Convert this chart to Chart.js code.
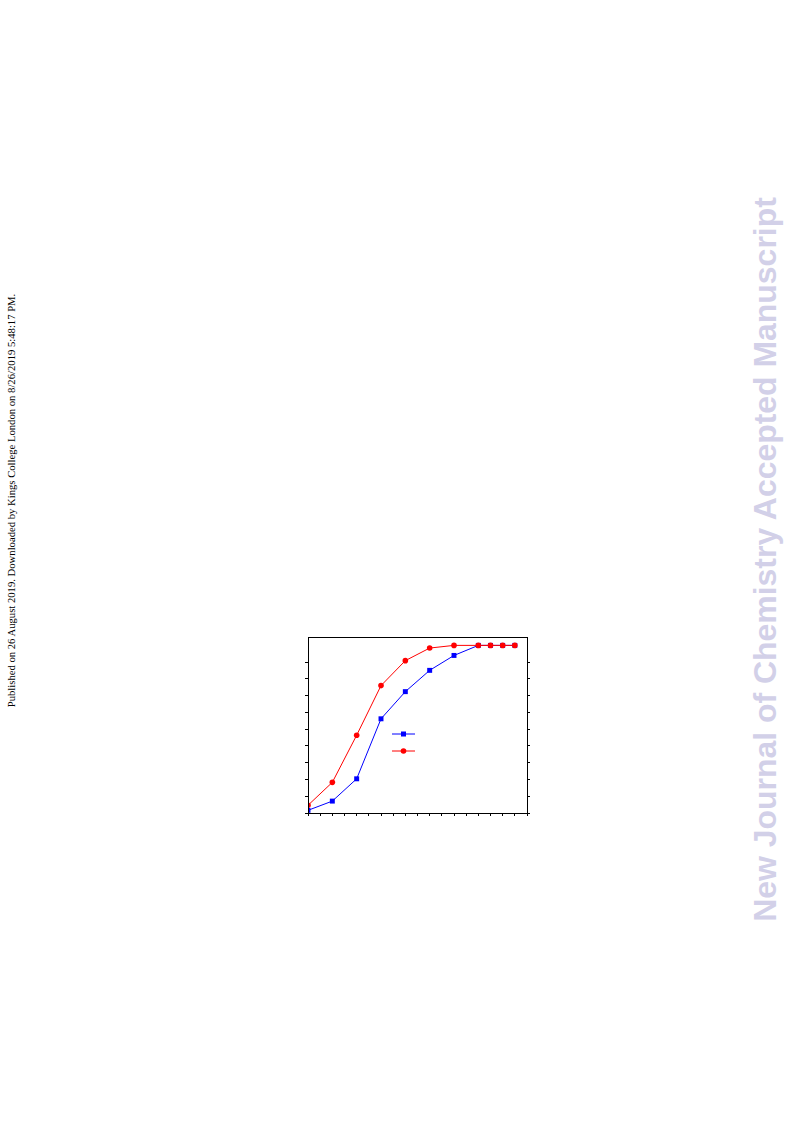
<!DOCTYPE html>
<html>
<head>
<meta charset="utf-8">
<script src="https://cdn.jsdelivr.net/npm/chart.js@4.4.1/dist/chart.umd.min.js"></script>
<style>
  html, body { margin: 0; padding: 0; background: #fff; width: 793px; height: 1123px; overflow: hidden; }
  #wrap { position: absolute; left: 290px; top: 620px; width: 260px; height: 210px; }
  .rot { position: absolute; white-space: nowrap; transform-origin: center center; }
  #left { font-family: "Liberation Serif", "DejaVu Serif", serif; font-size: 10.5px; color: #000; }
  #right { font-family: "Liberation Sans", Arial, sans-serif; font-weight: bold; font-size: 33px; color: #d2d0e8; }
</style>
</head>
<body>
<div id="left" class="rot">Published on 26 August 2019. Downloaded by Kings College London on 8/26/2019 5:48:17 PM.</div>
<div id="right" class="rot">New Journal of Chemistry Accepted Manuscript</div>
<div id="wrap"><canvas id="c" width="260" height="210"></canvas></div>
<script>
// ---- data ----
const xValues = [0, 2, 4, 6, 8, 10, 12, 14, 15, 16, 17];
const blueValues = [1.6, 7.1, 20.4, 56.2, 72.4, 85.1, 94.0, 100, 100, 100, 100];
const redValues  = [4.6, 18.3, 46.4, 76.0, 90.9, 98.4, 100, 100, 100, 100, 100];
const seriesNames = ['', ''];

// place rotated texts
function placeRot(el, cx, cy, targetLen) {
  if (targetLen) {
    const w = el.getBoundingClientRect().width;
    const fs = parseFloat(getComputedStyle(el).fontSize);
    el.style.fontSize = (fs * targetLen / w) + 'px';
  }
  const r = el.getBoundingClientRect();
  el.style.left = (cx - r.width / 2) + 'px';
  el.style.top = (cy - r.height / 2) + 'px';
  el.style.transform = 'rotate(-90deg)';
}
placeRot(document.getElementById('left'), 12, 500, 414);
placeRot(document.getElementById('right'), 765, 559.5, 725);

const blue = '#0000ff';
const red = '#ff0000';

const framePlugin = {
  id: 'frame',
  afterDatasetsDraw(chart) {
    const a = chart.chartArea, ctx = chart.ctx;
    ctx.save();
    ctx.strokeStyle = '#000';
    ctx.lineWidth = 1;
    ctx.strokeRect(Math.round(a.left) + 0.5, Math.round(a.top) + 0.5,
                   Math.round(a.right - a.left), Math.round(a.bottom - a.top));
    // legend (no text)
    const items = [
      { color: blue, style: 'rect', r: 3.5, dy: 97 },
      { color: red, style: 'circle', r: 2.8, dy: 114 }
    ];
    items.forEach(it => {
      const y = a.top + it.dy;
      const x0 = a.left + 84, x1 = a.left + 107;
      ctx.strokeStyle = it.color;
      ctx.lineWidth = 1;
      ctx.beginPath(); ctx.moveTo(x0, y); ctx.lineTo(x1, y); ctx.stroke();
      ctx.fillStyle = it.color;
      Chart.helpers.drawPoint(ctx, { pointStyle: it.style, rotation: 0, borderWidth: 0 }, (x0 + x1) / 2, y);
      ctx.beginPath();
      if (it.style === 'rect') {
        ctx.fillRect((x0 + x1) / 2 - 2.5, y - 2.5, 5, 5);
      } else {
        ctx.arc((x0 + x1) / 2, y, it.r, 0, Math.PI * 2); ctx.fill();
      }
    });
    ctx.restore();
  }
};

const mkAxisGrid = () => ({ drawOnChartArea: false, drawTicks: true, tickLength: 3, color: '#000', tickColor: '#000', lineWidth: 1 });

new Chart(document.getElementById('c'), {
  type: 'line',
  data: {
    datasets: [
      {
        label: seriesNames[1],
        data: xValues.map((x, i) => ({ x, y: redValues[i] })),
        borderColor: red, backgroundColor: red, borderWidth: 1,
        pointStyle: 'circle', pointRadius: 2.8, pointBorderWidth: 0,
        tension: 0
      },
      {
        label: seriesNames[0],
        data: xValues.map((x, i) => ({ x, y: blueValues[i] })),
        borderColor: blue, backgroundColor: blue, borderWidth: 1,
        pointStyle: 'rect', pointRadius: 3.5, pointBorderWidth: 0,
        tension: 0
      }
    ]
  },
  options: {
    responsive: false,
    animation: false,
    layout: { padding: { left: 8, right: 19, top: 17, bottom: 7 } },
    plugins: { legend: { display: false }, tooltip: { enabled: false } },
    scales: {
      x: {
        type: 'linear', min: 0, max: 18,
        border: { display: false },
        grid: mkAxisGrid(),
        ticks: { stepSize: 1, callback: () => '', autoSkip: false },
        afterFit: s => { s.height = 10; }
      },
      y: {
        min: 0, max: 105,
        border: { display: false },
        grid: mkAxisGrid(),
        ticks: { stepSize: 10, callback: () => '' },
        afterBuildTicks: s => { s.ticks = s.ticks.filter(t => t.value <= 100); },
        afterFit: s => { s.width = 10; }
      },
      y2: {
        position: 'right', min: 0, max: 105,
        border: { display: false },
        grid: mkAxisGrid(),
        ticks: { stepSize: 10, callback: () => '' },
        afterBuildTicks: s => { s.ticks = s.ticks.filter(t => t.value <= 100); },
        afterFit: s => { s.width = 4; }
      }
    }
  },
  plugins: [framePlugin]
});
</script>
</body>
</html>
